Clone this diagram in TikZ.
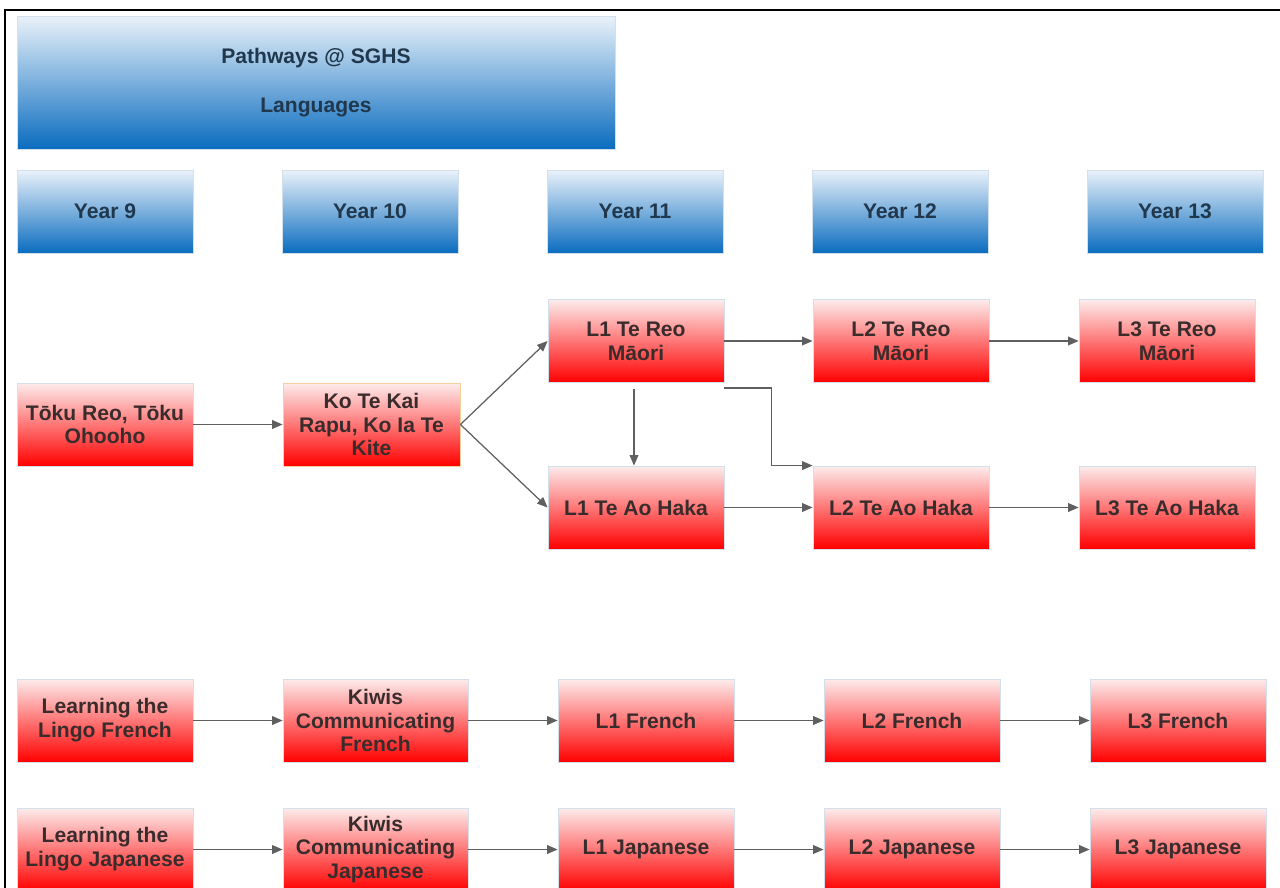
\documentclass[tikz,border=0pt]{standalone}
\usepackage{fontspec}
\setmainfont{Liberation Sans}
\usetikzlibrary{arrows.meta,positioning,calc}

\definecolor{boxline}{HTML}{D3DFEA}
\definecolor{peach}{HTML}{F3CFA0}
\definecolor{bluetop}{HTML}{EAF2FA}
\definecolor{bluebot}{HTML}{0A6CBF}
\definecolor{redtop}{HTML}{FDECEC}
\definecolor{redbot}{HTML}{FF0000}
\definecolor{arrowgrey}{HTML}{5F5F5F}
\definecolor{inkred}{HTML}{3A2C2C}
\definecolor{inkblue}{HTML}{20374C}

\tikzset{
  yearbox/.style={draw=boxline, line width=0.5pt, top color=bluetop, bottom color=bluebot,
    minimum width=3.52cm, minimum height=1.66cm, inner sep=0pt, align=center,
    text=inkblue, font=\bfseries\fontsize{12}{13.6}\selectfont},
  subj/.style={draw=boxline, line width=0.5pt, top color=redtop, bottom color=redbot,
    minimum width=3.52cm, minimum height=1.66cm, inner sep=0pt, align=center,
    text=inkred, font=\bfseries\fontsize{12}{13.6}\selectfont},
  conn/.style={draw=arrowgrey, line width=0.7pt, -{Triangle[length=6pt,width=5pt]}}
}

\begin{document}
\begin{tikzpicture}[x=0.02cm, y=-0.02cm]
 \clip (0,0) rectangle (1280,888);
 \useasboundingbox (0,0) rectangle (1280,888);
 \fill[white] (0,0) rectangle (1280,888);
 \draw[black, line width=0.8pt] (5,888) -- (5,10) -- (1280,10);
 %
 \node[yearbox, minimum width=11.96cm, minimum height=2.66cm] (title) at (316,82.5)
   {Pathways @ SGHS\\[2.3ex] Languages};
 \node[yearbox] (y9) at (105,211.5) {Year 9};
 \node[yearbox] (y10) at (370,211.5) {Year 10};
 \node[yearbox] (y11) at (635,211.5) {Year 11};
 \node[yearbox] (y12) at (900,211.5) {Year 12};
 \node[yearbox] (y13) at (1175,211.5) {Year 13};
 % te reo and te ao haka
 \node[subj] (toku) at (105,424.5) {Tōku Reo, Tōku\\Ohooho};
 \node[subj, draw=peach, minimum width=3.54cm] (kaik) at (371.5,424.5) {Ko Te Kai\\Rapu, Ko Ia Te\\Kite};
 \node[subj] (reoa) at (636,341) {L1 Te Reo\\Māori};
 \node[subj] (reob) at (901,341) {L2 Te Reo\\Māori};
 \node[subj] (reoc) at (1167,341) {L3 Te Reo\\Māori};
 \node[subj] (hakaa) at (636,507.5) {L1 Te Ao Haka};
 \node[subj] (hakab) at (901,507.5) {L2 Te Ao Haka};
 \node[subj] (hakac) at (1167,507.5) {L3 Te Ao Haka};
 % french
 \node[subj] (fra) at (105,720.5) {Learning the\\Lingo French};
 \node[subj, minimum width=3.7cm] (frb) at (375.5,720.5) {Kiwis\\Communicating\\French};
 \node[subj] (frc) at (646,720.5) {L1 French};
 \node[subj] (frd) at (912,720.5) {L2 French};
 \node[subj] (fre) at (1178,720.5) {L3 French};
 % japanese
 \node[subj] (jpa) at (105,849.5) {Learning the\\Lingo Japanese};
 \node[subj, minimum width=3.7cm] (jpb) at (375.5,849.5) {Kiwis\\Communicating\\Japanese};
 \node[subj] (jpc) at (646,849.5) {L1 Japanese};
 \node[subj] (jpd) at (912,849.5) {L2 Japanese};
 \node[subj] (jpe) at (1178,849.5) {L3 Japanese};
 %
 \draw[conn] (toku) -- (kaik);
 \draw[conn] (kaik.east) -- (reoa.west);
 \draw[conn] (kaik.east) -- (hakaa.west);
 \draw[conn] (reoa) -- (reob);
 \draw[conn] (reob) -- (reoc);
 \draw[conn] ([xshift=-0.04cm,yshift=-0.12cm]reoa.south) -- ([xshift=-0.04cm]hakaa.north);
 \draw[conn] ([yshift=-0.1cm]reoa.south east) -| ([xshift=-0.82cm]hakab.north west) -- (hakab.north west);
 \draw[conn] (hakaa) -- (hakab);
 \draw[conn] (hakab) -- (hakac);
 \draw[conn] (fra) -- (frb);
 \draw[conn] (frb) -- (frc);
 \draw[conn] (frc) -- (frd);
 \draw[conn] (frd) -- (fre);
 \draw[conn] (jpa) -- (jpb);
 \draw[conn] (jpb) -- (jpc);
 \draw[conn] (jpc) -- (jpd);
 \draw[conn] (jpd) -- (jpe);
\end{tikzpicture}
\end{document}
